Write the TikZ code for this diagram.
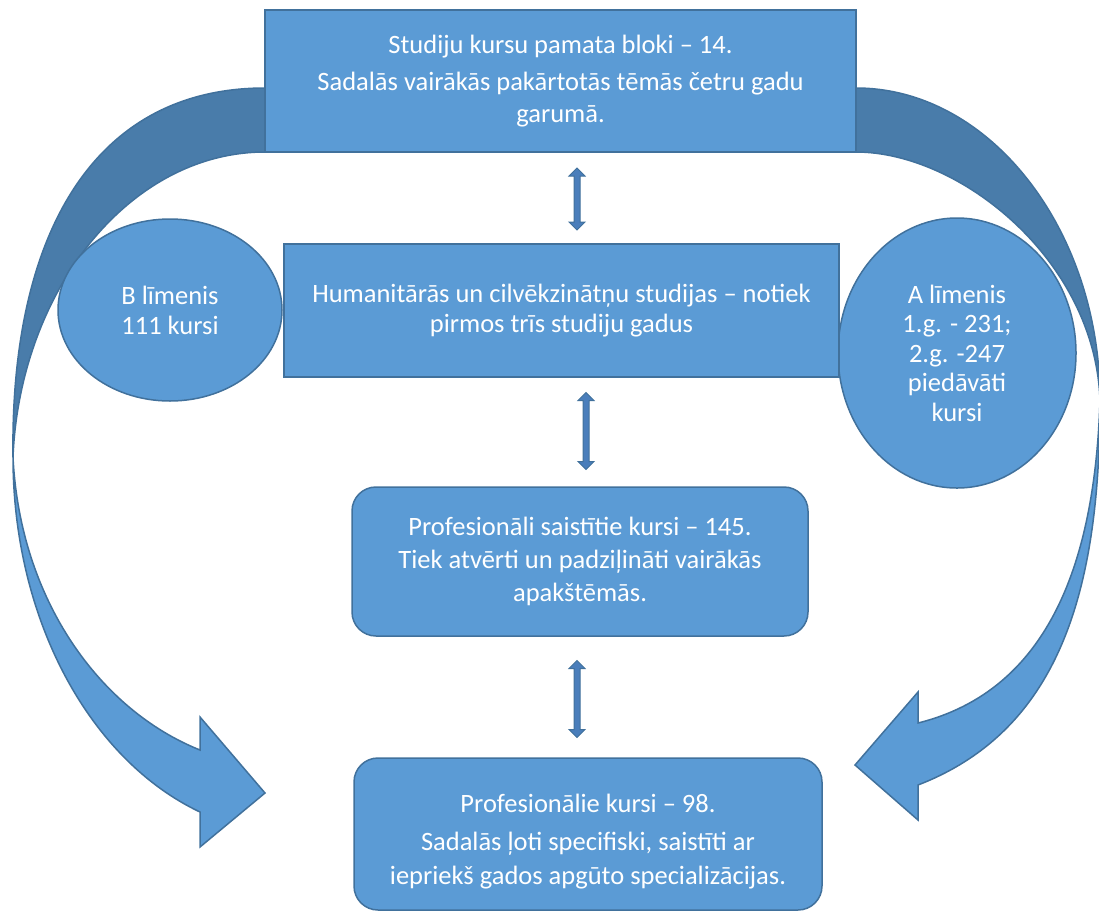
\documentclass[tikz,border=0pt]{standalone}
\usepackage{fontspec}
\setmainfont{Carlito}
\usetikzlibrary{shapes.geometric, shapes.arrows}
\definecolor{boxblue}{HTML}{5B9BD5}
\definecolor{backblue}{HTML}{497CAA}
\definecolor{edgeblue}{HTML}{41719C}
\definecolor{tipblue}{HTML}{4A7EBB}

\begin{document}
\begin{tikzpicture}[x=1pt, y=-1pt,
    box/.style = {draw=edgeblue, fill=boxblue, line width=1.5pt, text=white, align=center, inner sep=0pt, font=\fontsize{26.5}{32}\selectfont},
    roundbox/.style = {box, rounded corners=24pt},
    oval/.style = {ellipse, draw=edgeblue, fill=boxblue, line width=1.5pt, text=white, align=center, inner sep=0pt, font=\fontsize{26.5}{29.5}\selectfont},
    back/.style = {draw=edgeblue, fill=backblue, line width=1.5pt, line join=round},
    front/.style = {draw=edgeblue, fill=boxblue, line width=1.5pt, line join=miter},
    updown/.style = {double arrow, draw=edgeblue, fill=tipblue, line width=1pt, rotate=90, inner sep=2.5pt, double arrow head extend=5pt}]
    \useasboundingbox (0,0) rectangle (1099,911);
    \clip (0,0) rectangle (1099,911);

    % curved block arrows
    \filldraw [back] (265,88) .. controls (90,88) and (10,240) .. (13,457)
        .. controls (20,290) and (130,152) .. (265,152) -- cycle;
    \filldraw [front] (13,457) .. controls (13,620) and (90,760) .. (200,812)
        -- (200,847) -- (265,793) -- (200,717) -- (200,750)
        .. controls (100,710) and (20,600) .. (13,457) -- cycle;
    \filldraw [back] (856,88) .. controls (990,88) and (1100,230) .. (1100,400)
        .. controls (1095,260) and (960,152) .. (856,152) -- cycle;
    \filldraw [front] (1100,400) .. controls (1100,590) and (1060,730) .. (918,785)
        -- (918,820) -- (855,765) -- (918,692) -- (918,723)
        .. controls (1050,690) and (1095,560) .. (1100,400) -- cycle;

    \node [oval, minimum width=224pt, minimum height=182pt, font=\fontsize{26.5}{30}\selectfont] (levelB) at (170,310)
        {B līmenis\\111 kursi};
    \node [oval, minimum width=238pt, minimum height=270pt] (levelA) at (957,353)
        {A līmenis\\1.g. - 231;\\2.g. -247\\piedāvāti\\kursi};

    \node [box, minimum width=591pt, minimum height=142pt] (blocks) at (560.5,81)
        {Studiju kursu pamata bloki – 14.\\[5pt]Sadalās vairākās pakārtotās tēmās četru gadu\\garumā.};
    \node [box, minimum width=555pt, minimum height=133pt, font=\fontsize{26.5}{30}\selectfont] (humanities) at (561.5,310.5)
        {Humanitārās un cilvēkzinātņu studijas – notiek\\pirmos trīs studiju gadus};
    \node [roundbox, minimum width=456pt, minimum height=149pt, font=\fontsize{26.5}{33}\selectfont] (related) at (580,561.5)
        {Profesionāli saistītie kursi – 145.\\Tiek atvērti un padziļināti vairākās\\apakštēmās.};
    \node [roundbox, minimum width=468pt, minimum height=152pt, font=\fontsize{26.5}{34}\selectfont] (professional) at (588,834)
        {\rule{0pt}{34pt}Profesionālie kursi – 98.\\[4pt]Sadalās ļoti specifiski, saistīti ar\\iepriekš gados apgūto specializācijas.};

    \coordinate (upA) at (577,199);
    \coordinate (upB) at (586,431);
    \coordinate (upC) at (577,699);
    \node [updown, minimum height=62pt] (arrA) at (upA) {};
    \node [updown, minimum height=77pt] (arrB) at (upB) {};
    \node [updown, minimum height=77pt] (arrC) at (upC) {};
\end{tikzpicture}
\end{document}
